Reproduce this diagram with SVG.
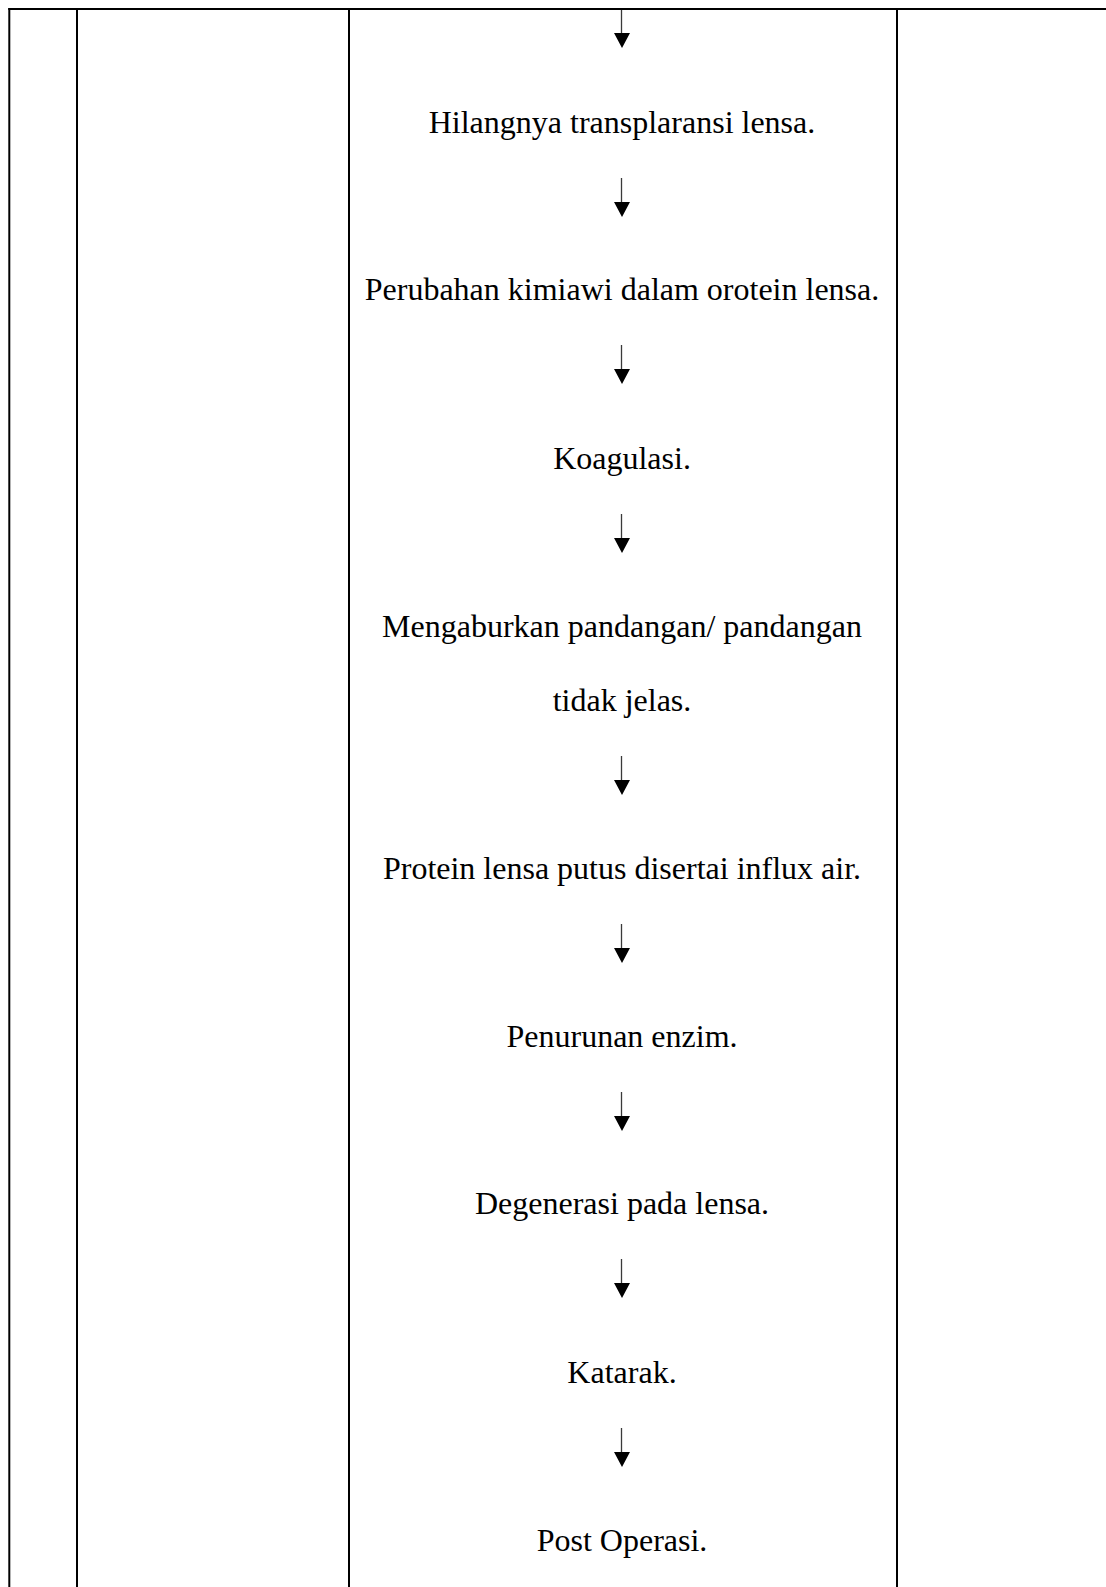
<svg xmlns="http://www.w3.org/2000/svg" width="1106" height="1587" viewBox="0 0 1106 1587">
<style>
.grid{stroke:#000;stroke-width:2;fill:none}
.shaft{stroke:#3a3a3a;stroke-width:1.3;fill:none}
.head{fill:#000;stroke:none}
.t{font-family:"Liberation Serif","Times New Roman",serif;font-size:32px;fill:#000;text-anchor:middle}
</style>
<rect x="0" y="0" width="1106" height="1587" fill="#fff"/>
<g id="table">
<line class="grid" x1="8.3" y1="9" x2="1106" y2="9"/>
<line class="grid" x1="9.3" y1="8" x2="9.3" y2="1587"/>
<line class="grid" x1="77" y1="8" x2="77" y2="1587"/>
<line class="grid" x1="349" y1="8" x2="349" y2="1587"/>
<line class="grid" x1="897" y1="8" x2="897" y2="1587"/>
</g>
<g id="connectors">
<g id="a1"><line class="shaft" x1="621.5" y1="10" x2="621.5" y2="34"/><polygon class="head" points="614,33 630,33 622,48"/></g>
<g id="a2"><line class="shaft" x1="621.5" y1="178" x2="621.5" y2="203"/><polygon class="head" points="614,202 630,202 622,217"/></g>
<g id="a3"><line class="shaft" x1="621.5" y1="345" x2="621.5" y2="370"/><polygon class="head" points="614,369 630,369 622,384"/></g>
<g id="a4"><line class="shaft" x1="621.5" y1="514" x2="621.5" y2="539"/><polygon class="head" points="614,538 630,538 622,553"/></g>
<g id="a5"><line class="shaft" x1="621.5" y1="756" x2="621.5" y2="781"/><polygon class="head" points="614,780 630,780 622,795"/></g>
<g id="a6"><line class="shaft" x1="621.5" y1="924" x2="621.5" y2="949"/><polygon class="head" points="614,948 630,948 622,963"/></g>
<g id="a7"><line class="shaft" x1="621.5" y1="1092" x2="621.5" y2="1117"/><polygon class="head" points="614,1116 630,1116 622,1131"/></g>
<g id="a8"><line class="shaft" x1="621.5" y1="1259" x2="621.5" y2="1284"/><polygon class="head" points="614,1283 630,1283 622,1298"/></g>
<g id="a9"><line class="shaft" x1="621.5" y1="1428" x2="621.5" y2="1453"/><polygon class="head" points="614,1452 630,1452 622,1467"/></g>
</g>
<g id="n1"><text class="t" x="622" y="133">Hilangnya transplaransi lensa.</text></g>
<g id="n2"><text class="t" x="622" y="300">Perubahan kimiawi dalam orotein lensa.</text></g>
<g id="n3"><text class="t" x="622" y="469">Koagulasi.</text></g>
<g id="n4"><text class="t" x="622" y="637">Mengaburkan pandangan/ pandangan</text><text class="t" x="622" y="711">tidak jelas.</text></g>
<g id="n5"><text class="t" x="622" y="879">Protein lensa putus disertai influx air.</text></g>
<g id="n6"><text class="t" x="622" y="1047">Penurunan enzim.</text></g>
<g id="n7"><text class="t" x="622" y="1214">Degenerasi pada lensa.</text></g>
<g id="n8"><text class="t" x="622" y="1383">Katarak.</text></g>
<g id="n9"><text class="t" x="622" y="1551">Post Operasi.</text></g>
</svg>
